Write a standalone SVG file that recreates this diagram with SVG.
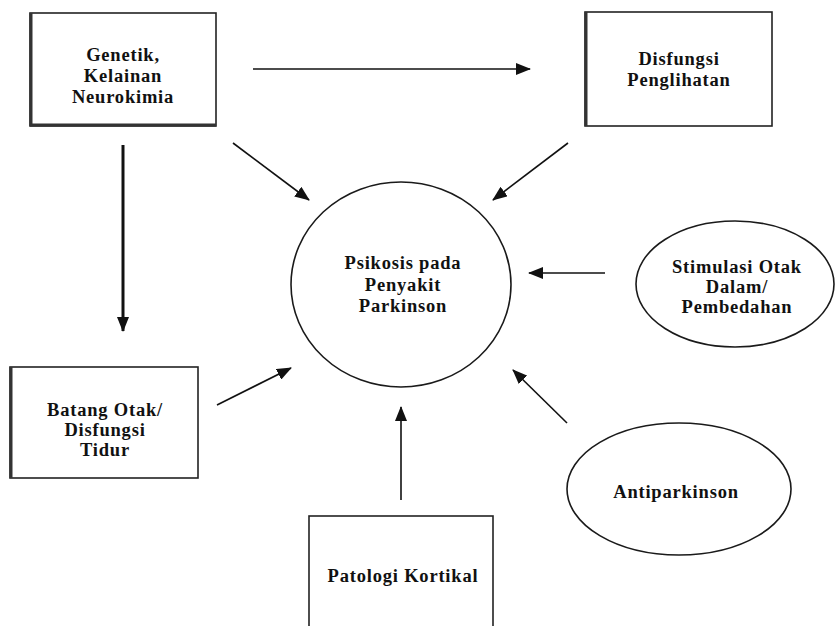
<svg xmlns="http://www.w3.org/2000/svg" width="836" height="626" viewBox="0 0 836 626">
<defs>
<style>
.box{fill:#fff;stroke:#222;stroke-width:1.6}
.thick{stroke:#333;stroke-width:3}
.ell{fill:#fff;stroke:#1a1a1a;stroke-width:1.6}
.t{font-family:"Liberation Serif","DejaVu Serif",serif;font-size:18.5px;fill:#111;text-anchor:middle;font-weight:bold;letter-spacing:0.8px}
.c{stroke:#111;stroke-width:1.6;fill:none;marker-end:url(#ah)}
</style>
<marker id="ah" markerUnits="userSpaceOnUse" markerWidth="15" markerHeight="12" refX="14" refY="6" orient="auto">
<path d="M0,0 L15,6 L0,12 Z" fill="#111"/>
</marker>
</defs>
<rect width="836" height="626" fill="#fff"/>
<g id="connectors">
<line class="c" x1="253" y1="69" x2="530" y2="69"/>
<line class="c" x1="123" y1="145" x2="123" y2="331" style="stroke-width:3"/>
<line class="c" x1="233" y1="143" x2="309" y2="200"/>
<line class="c" x1="568" y1="143" x2="493" y2="200"/>
<line class="c" x1="605" y1="273" x2="529" y2="273"/>
<line class="c" x1="217" y1="405" x2="291" y2="368"/>
<line class="c" x1="401" y1="500" x2="401" y2="407"/>
<line class="c" x1="567" y1="423" x2="513" y2="370"/>
</g>
<g id="genetik">
<rect class="box" x="30" y="13" width="186" height="113"/>
<line class="thick" x1="31" y1="13" x2="31" y2="126"/>
<line class="thick" x1="30" y1="125" x2="216" y2="125"/>
<text class="t" x="123" y="61">Genetik,</text>
<text class="t" x="123" y="82">Kelainan</text>
<text class="t" x="123" y="103">Neurokimia</text>
</g>
<g id="disfungsi-penglihatan">
<rect class="box" x="585" y="12" width="187" height="114"/>
<line class="thick" x1="586" y1="12" x2="586" y2="126"/>
<text class="t" x="679" y="65">Disfungsi</text>
<text class="t" x="679" y="86">Penglihatan</text>
</g>
<g id="psikosis">
<ellipse class="ell" cx="401" cy="284.5" rx="110" ry="102.5"/>
<text class="t" x="403" y="269">Psikosis pada</text>
<text class="t" x="403" y="291">Penyakit</text>
<text class="t" x="403" y="312">Parkinson</text>
</g>
<g id="stimulasi">
<ellipse class="ell" cx="735" cy="284" rx="99" ry="63"/>
<text class="t" x="737" y="273">Stimulasi Otak</text>
<text class="t" x="737" y="293">Dalam/</text>
<text class="t" x="737" y="313">Pembedahan</text>
</g>
<g id="batang-otak">
<rect class="box" x="10" y="367" width="188" height="111"/>
<line class="thick" x1="11" y1="367" x2="11" y2="478"/>
<text class="t" x="105" y="416">Batang Otak/</text>
<text class="t" x="105" y="436">Disfungsi</text>
<text class="t" x="105" y="456">Tidur</text>
</g>
<g id="patologi">
<rect class="box" x="309" y="516" width="184" height="130"/>
<text class="t" x="403" y="582">Patologi Kortikal</text>
</g>
<g id="antiparkinson">
<ellipse class="ell" cx="679" cy="489" rx="112" ry="66"/>
<text class="t" x="676" y="498">Antiparkinson</text>
</g>
</svg>
